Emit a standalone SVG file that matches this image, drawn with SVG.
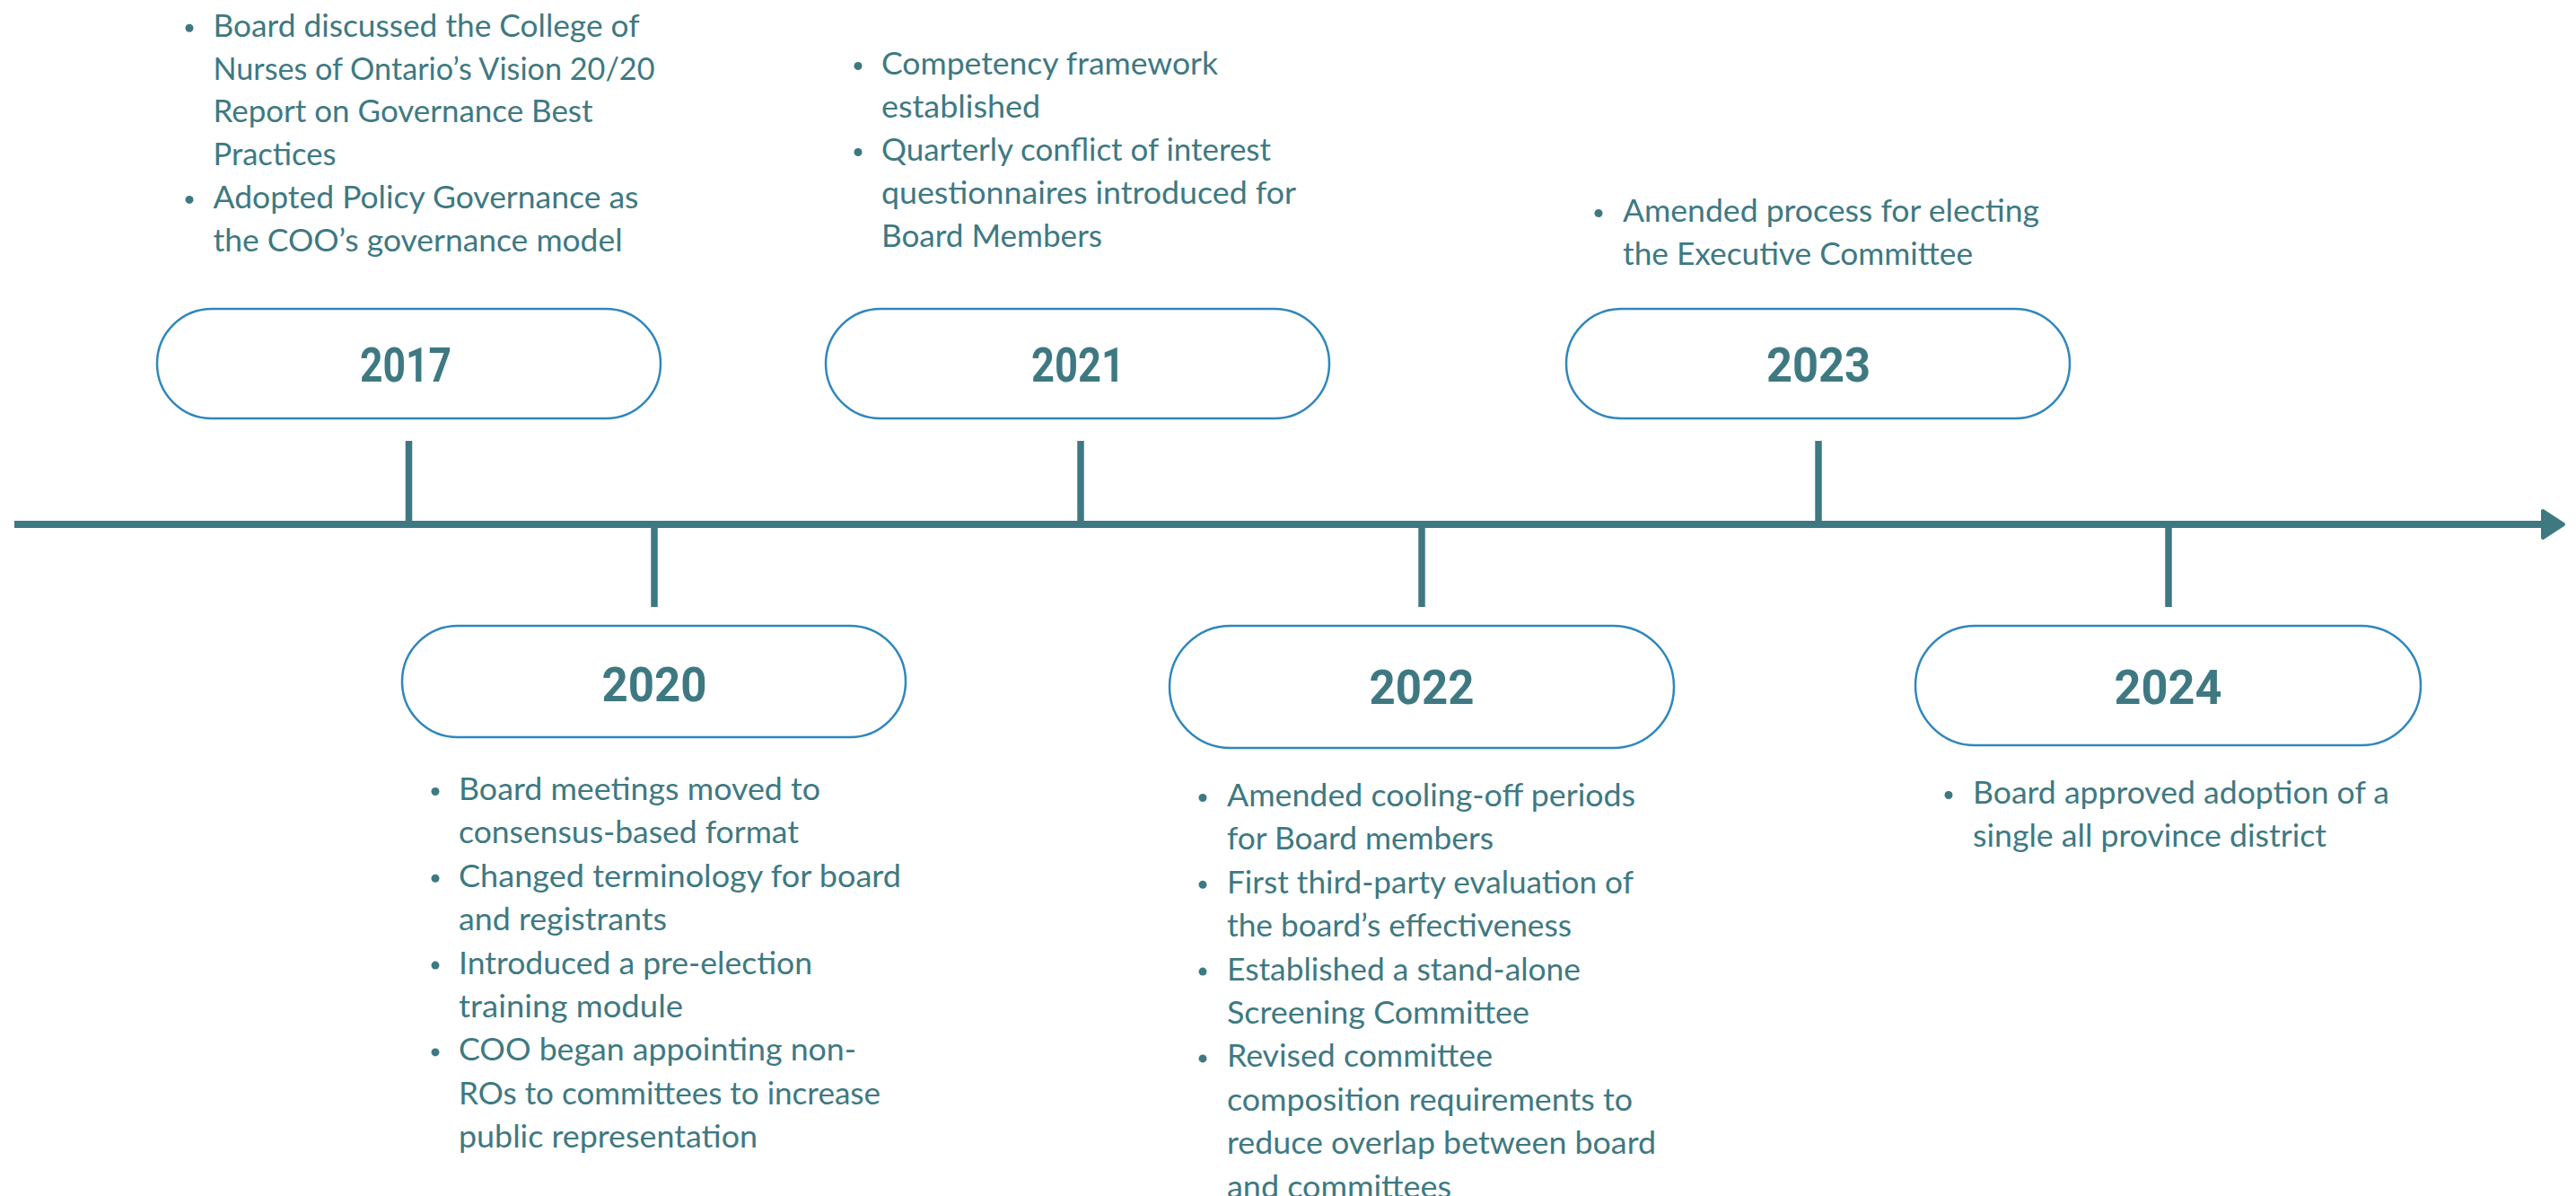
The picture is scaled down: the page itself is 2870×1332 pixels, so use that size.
<svg xmlns="http://www.w3.org/2000/svg" width="2870" height="1332" viewBox="0 0 2870 1332">
<style>
.bg{fill:#ffffff}
.pill{fill:#ffffff;stroke:#2f87bd;stroke-width:2.5}
.year{font-family:Roboto,"Liberation Sans",sans-serif;font-weight:700;font-size:53px;fill:#3e7982;text-anchor:middle}
.txt{font-family:Lato,"Liberation Sans",sans-serif;font-size:34px;fill:#3e7982}
.dot{fill:#3e7982}
.axis{stroke:#3e7982;stroke-width:8;fill:none}
.tick{stroke:#3e7982;stroke-width:7.5;fill:none}
</style>
<defs>
<marker id="arrow" markerUnits="userSpaceOnUse" viewBox="0 0 30 36" markerWidth="30" markerHeight="36" refX="3" refY="18" orient="auto">
<path d="M3,3 L26,18 L3,33 Z" fill="#3e7982" stroke="#3e7982" stroke-width="4" stroke-linejoin="round"/>
</marker>
</defs>
<rect class="bg" x="0" y="0" width="2870" height="1332"/>

<g id="connectors">
<line class="axis" x1="16" y1="584" x2="2833" y2="584" marker-end="url(#arrow)"/>
<line class="tick" x1="455.5" y1="491" x2="455.5" y2="584"/>
<line class="tick" x1="1204" y1="491" x2="1204" y2="584"/>
<line class="tick" x1="2026" y1="491" x2="2026" y2="584"/>
<line class="tick" x1="729" y1="584" x2="729" y2="676"/>
<line class="tick" x1="1584" y1="584" x2="1584" y2="676"/>
<line class="tick" x1="2416" y1="584" x2="2416" y2="676"/>
</g>

<g id="node-2017">
<rect class="pill" x="175" y="344" width="561" height="122" rx="61"/>
<text class="year" x="452" y="425" textLength="102" lengthAdjust="spacingAndGlyphs">2017</text>
<circle class="dot" cx="211" cy="31.2" r="4.5"/>
<text class="txt" x="237.5" y="40.7" textLength="475" lengthAdjust="spacingAndGlyphs">Board discussed the College of</text>
<text class="txt" x="237.5" y="88.5" textLength="492" lengthAdjust="spacingAndGlyphs">Nurses of Ontario’s Vision 20/20</text>
<text class="txt" x="237.5" y="136.3" textLength="423" lengthAdjust="spacingAndGlyphs">Report on Governance Best</text>
<text class="txt" x="237.5" y="184.1" textLength="137" lengthAdjust="spacingAndGlyphs">Practices</text>
<circle class="dot" cx="211" cy="222.4" r="4.5"/>
<text class="txt" x="237.5" y="231.9" textLength="474" lengthAdjust="spacingAndGlyphs">Adopted Policy Governance as</text>
<text class="txt" x="237.5" y="279.7" textLength="456" lengthAdjust="spacingAndGlyphs">the COO’s governance model</text>
</g>

<g id="node-2021">
<rect class="pill" x="920" y="344" width="561" height="122" rx="61"/>
<text class="year" x="1201" y="425" textLength="104" lengthAdjust="spacingAndGlyphs">2021</text>
<circle class="dot" cx="956" cy="73.5" r="4.5"/>
<text class="txt" x="982" y="83" textLength="375" lengthAdjust="spacingAndGlyphs">Competency framework</text>
<text class="txt" x="982" y="131" textLength="177" lengthAdjust="spacingAndGlyphs">established</text>
<circle class="dot" cx="956" cy="169.5" r="4.5"/>
<text class="txt" x="982" y="179" textLength="434" lengthAdjust="spacingAndGlyphs">Quarterly conflict of interest</text>
<text class="txt" x="982" y="227" textLength="462" lengthAdjust="spacingAndGlyphs">questionnaires introduced for</text>
<text class="txt" x="982" y="275" textLength="246" lengthAdjust="spacingAndGlyphs">Board Members</text>
</g>

<g id="node-2023">
<rect class="pill" x="1745" y="344" width="561" height="122" rx="61"/>
<text class="year" x="2026" y="425" textLength="116" lengthAdjust="spacingAndGlyphs">2023</text>
<circle class="dot" cx="1781" cy="237.5" r="4.5"/>
<text class="txt" x="1808" y="247" textLength="464" lengthAdjust="spacingAndGlyphs">Amended process for electing</text>
<text class="txt" x="1808" y="295" textLength="390" lengthAdjust="spacingAndGlyphs">the Executive Committee</text>
</g>

<g id="node-2020">
<rect class="pill" x="448" y="697" width="561" height="124" rx="62"/>
<text class="year" x="729" y="781" textLength="117" lengthAdjust="spacingAndGlyphs">2020</text>
<circle class="dot" cx="485" cy="881.5" r="4.5"/>
<text class="txt" x="511" y="891" textLength="403" lengthAdjust="spacingAndGlyphs">Board meetings moved to</text>
<text class="txt" x="511" y="939.4" textLength="379" lengthAdjust="spacingAndGlyphs">consensus-based format</text>
<circle class="dot" cx="485" cy="978.3" r="4.5"/>
<text class="txt" x="511" y="987.8" textLength="493" lengthAdjust="spacingAndGlyphs">Changed terminology for board</text>
<text class="txt" x="511" y="1036.2" textLength="232" lengthAdjust="spacingAndGlyphs">and registrants</text>
<circle class="dot" cx="485" cy="1075.1" r="4.5"/>
<text class="txt" x="511" y="1084.6" textLength="394" lengthAdjust="spacingAndGlyphs">Introduced a pre-election</text>
<text class="txt" x="511" y="1133" textLength="250" lengthAdjust="spacingAndGlyphs">training module</text>
<circle class="dot" cx="485" cy="1171.9" r="4.5"/>
<text class="txt" x="511" y="1181.4" textLength="443" lengthAdjust="spacingAndGlyphs">COO began appointing non-</text>
<text class="txt" x="511" y="1229.8" textLength="470" lengthAdjust="spacingAndGlyphs">ROs to committees to increase</text>
<text class="txt" x="511" y="1278.2" textLength="333" lengthAdjust="spacingAndGlyphs">public representation</text>
</g>

<g id="node-2022">
<rect class="pill" x="1303" y="697" width="562" height="136" rx="68"/>
<text class="year" x="1584" y="784" textLength="117" lengthAdjust="spacingAndGlyphs">2022</text>
<circle class="dot" cx="1340" cy="888.5" r="4.5"/>
<text class="txt" x="1367" y="898" textLength="455" lengthAdjust="spacingAndGlyphs">Amended cooling-off periods</text>
<text class="txt" x="1367" y="946.4" textLength="297" lengthAdjust="spacingAndGlyphs">for Board members</text>
<circle class="dot" cx="1340" cy="985.3" r="4.5"/>
<text class="txt" x="1367" y="994.8" textLength="453" lengthAdjust="spacingAndGlyphs">First third-party evaluation of</text>
<text class="txt" x="1367" y="1043.2" textLength="384" lengthAdjust="spacingAndGlyphs">the board’s effectiveness</text>
<circle class="dot" cx="1340" cy="1082.1" r="4.5"/>
<text class="txt" x="1367" y="1091.6" textLength="394" lengthAdjust="spacingAndGlyphs">Established a stand-alone</text>
<text class="txt" x="1367" y="1140" textLength="337" lengthAdjust="spacingAndGlyphs">Screening Committee</text>
<circle class="dot" cx="1340" cy="1178.9" r="4.5"/>
<text class="txt" x="1367" y="1188.4" textLength="296" lengthAdjust="spacingAndGlyphs">Revised committee</text>
<text class="txt" x="1367" y="1236.8" textLength="452" lengthAdjust="spacingAndGlyphs">composition requirements to</text>
<text class="txt" x="1367" y="1285.2" textLength="478" lengthAdjust="spacingAndGlyphs">reduce overlap between board</text>
<text class="txt" x="1367" y="1333.6" textLength="250" lengthAdjust="spacingAndGlyphs">and committees</text>
</g>

<g id="node-2024">
<rect class="pill" x="2134" y="697" width="563" height="133" rx="66.5"/>
<text class="year" x="2415.5" y="783.5" textLength="120" lengthAdjust="spacingAndGlyphs">2024</text>
<circle class="dot" cx="2171" cy="885.5" r="4.5"/>
<text class="txt" x="2198" y="895" textLength="464" lengthAdjust="spacingAndGlyphs">Board approved adoption of a</text>
<text class="txt" x="2198" y="942.5" textLength="394" lengthAdjust="spacingAndGlyphs">single all province district</text>
</g>
</svg>
